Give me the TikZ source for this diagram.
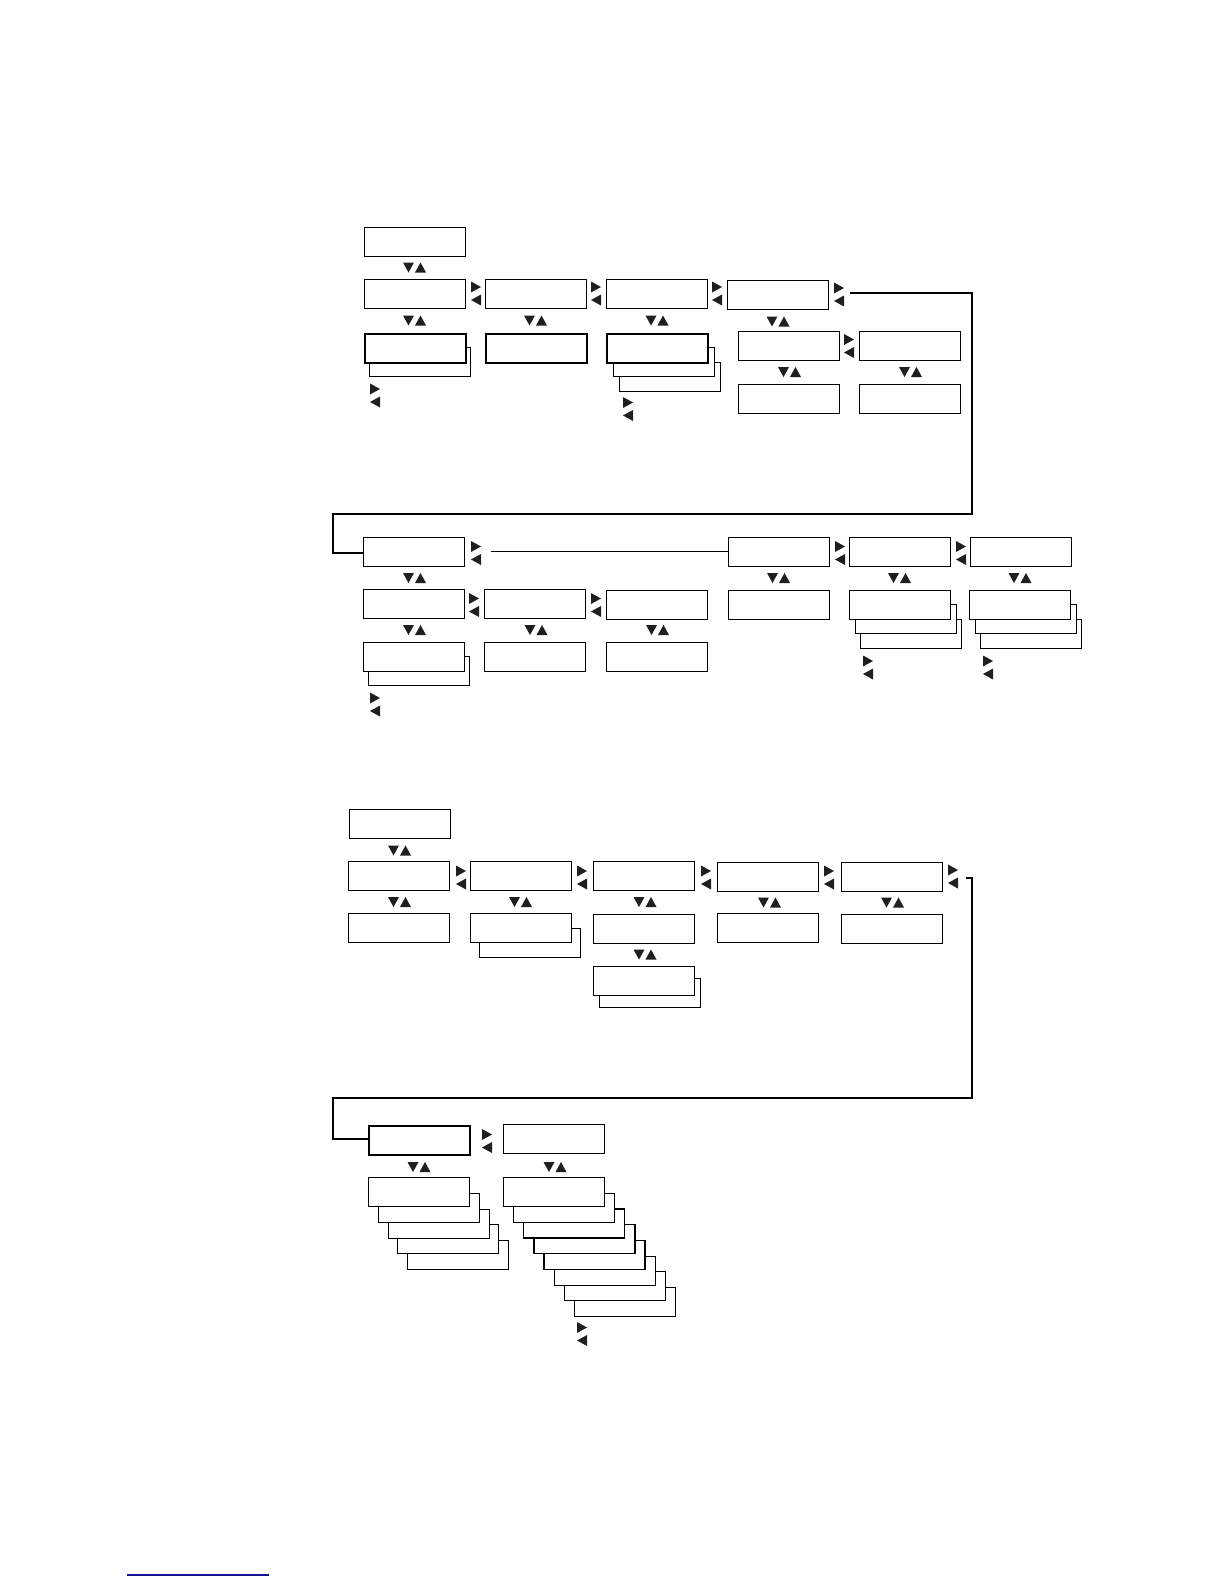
\documentclass[tikz,border=0pt]{standalone}
\begin{document}
\begin{tikzpicture}[x=0.5pt,y=-0.5pt,
  box/.style={draw,fill=white,line width=0.6pt,minimum width=50.5pt,minimum height=14.5pt,inner sep=0pt,anchor=north west},
  boldbox/.style={box,line width=1.2pt},
  link/.style={line width=0.6pt},
  tri/.style={fill=black!88,draw=none},
  ud/.pic={\fill[tri] (-11.5,-5) -- (-0.5,-5) -- (-6,5) -- cycle;
           \fill[tri] (0.5,5) -- (11.5,5) -- (6,-5) -- cycle;},
  lr/.pic={\fill[tri] (0,-12) -- (0,-1) -- (10,-6.5) -- cycle;
           \fill[tri] (10,1) -- (10,12) -- (0,6.5) -- cycle;}]
\useasboundingbox (0,0) rectangle (1224,1584);

% ---------------- Section A ----------------
\node[box] (A0) at (364,227) {};
\pic at (414.5,267.5) {ud};
\node[box] (A11) at (364,279) {};
\node[box] (A12) at (485,279) {};
\node[box] (A13) at (606,279) {};
\node[box] (A14) at (727,280) {};
\pic at (471,293.5) {lr};
\pic at (591,293.5) {lr};
\pic at (712,293.5) {lr};
\pic at (834,294.5) {lr};
\pic at (414.5,320.5) {ud};
\pic at (535.5,320.5) {ud};
\pic at (657,320.5) {ud};
\pic at (778,321.5) {ud};
\node[box] (A21s1) at (369,347) {};
\node[boldbox] (A21) at (364,333) {};
\node[boldbox] (A22) at (485,333) {};
\node[box] (A23s2) at (619,362) {};
\node[box] (A23s1) at (613,347) {};
\node[boldbox] (A23) at (606,333) {};
\node[box] (A24) at (738,331) {};
\node[box] (A25) at (859,331) {};
\pic at (844,346) {lr};
\pic at (789.5,372) {ud};
\pic at (910.5,372) {ud};
\node[box] (A34) at (738,384) {};
\node[box] (A35) at (859,384) {};
\pic at (370,395.5) {lr};
\pic at (623,409) {lr};

% ---------------- Section B ----------------
\node[box] (B1) at (363,537) {};
\pic at (471,553) {lr};
\coordinate (cb) at (491,551.5);
\node[box] (B4) at (728,537) {};
\node[box] (B5) at (849,537) {};
\node[box] (B6) at (970,537) {};
\draw[link] (cb) -- (cb -| B4.west);
\pic at (835,553) {lr};
\pic at (956,553) {lr};
\pic at (414.5,578) {ud};
\pic at (778.5,578) {ud};
\pic at (899.5,578) {ud};
\pic at (1020,578) {ud};
\node[box] (B21) at (363,589) {};
\node[box] (B22) at (484,589) {};
\node[box] (B23) at (606,590) {};
\pic at (469,605) {lr};
\pic at (591,605) {lr};
\node[box] (B24) at (728,590) {};
\node[box] (B25s2) at (860,619) {};
\node[box] (B25s1) at (855,604) {};
\node[box] (B25) at (849,590) {};
\node[box] (B26s2) at (980,619) {};
\node[box] (B26s1) at (975,604) {};
\node[box] (B26) at (969,590) {};
\pic at (414.5,630) {ud};
\pic at (536,630) {ud};
\pic at (657.5,630) {ud};
\node[box] (B31s1) at (368,656) {};
\node[box] (B31) at (363,642) {};
\node[box] (B32) at (484,642) {};
\node[box] (B33) at (606,642) {};
\pic at (370,704.5) {lr};
\pic at (863,667.5) {lr};
\pic at (983,667.5) {lr};

% connector A -> B
\coordinate (ca) at (850,293);
\coordinate (ca1) at (972,514);
\coordinate (ca2) at (333,553);
\draw[link] (ca) -| (ca1) -| (ca2) -- (ca2 -| B1.west);

% ---------------- Section C ----------------
\node[box] (C0) at (349,809) {};
\pic at (399.5,850.5) {ud};
\node[box] (C11) at (348,861) {};
\node[box] (C12) at (470,861) {};
\node[box] (C13) at (593,861) {};
\node[box] (C14) at (717,862) {};
\node[box] (C15) at (841,862) {};
\pic at (456,877.5) {lr};
\pic at (577,877.5) {lr};
\pic at (701,877.5) {lr};
\pic at (824,877.5) {lr};
\pic at (948,876.5) {lr};
\pic at (399.5,902) {ud};
\pic at (520.5,902) {ud};
\pic at (645,902) {ud};
\pic at (769.5,902.5) {ud};
\pic at (892.5,902.5) {ud};
\node[box] (C21) at (348,913) {};
\node[box] (C22s1) at (479,928) {};
\node[box] (C22) at (470,913) {};
\node[box] (C23) at (593,914) {};
\node[box] (C24) at (717,913) {};
\node[box] (C25) at (841,914) {};
\pic at (645,954.5) {ud};
\node[box] (C33s1) at (599,978) {};
\node[box] (C33) at (593,966) {};

% ---------------- Section D ----------------
\node[box,line width=0.9pt] (D1) at (368,1125) {};
\pic at (482,1141) {lr};
\node[box] (D2) at (503,1124) {};
\pic at (419,1167) {ud};
\pic at (555,1167) {ud};
\foreach \k in {4,...,1}
  \node[box] (D21s\k) at ({368+9.75*\k},{1177+15.75*\k}) {};
\node[box] (D21) at (368,1177) {};
\foreach \k in {7,...,1}
  \node[box] (D22s\k) at ({503+10.1*\k},{1177+15.7*\k}) {};
\node[box] (D22) at (503,1177) {};
\pic at (577,1334) {lr};

% connector C -> D
\coordinate (cc) at (966,878);
\coordinate (cc1) at (972,1098);
\coordinate (cc2) at (333,1139);
\draw[link] (cc) -| (cc1) -| (cc2) -- (cc2 -| D1.west);

% link underline at page foot
\coordinate (u1) at (127,1575);
\coordinate (u2) at (269,1575);
\draw[line width=0.7pt,color={rgb,255:red,20;green,20;blue,150}] (u1) -- (u2);
\end{tikzpicture}
\end{document}
